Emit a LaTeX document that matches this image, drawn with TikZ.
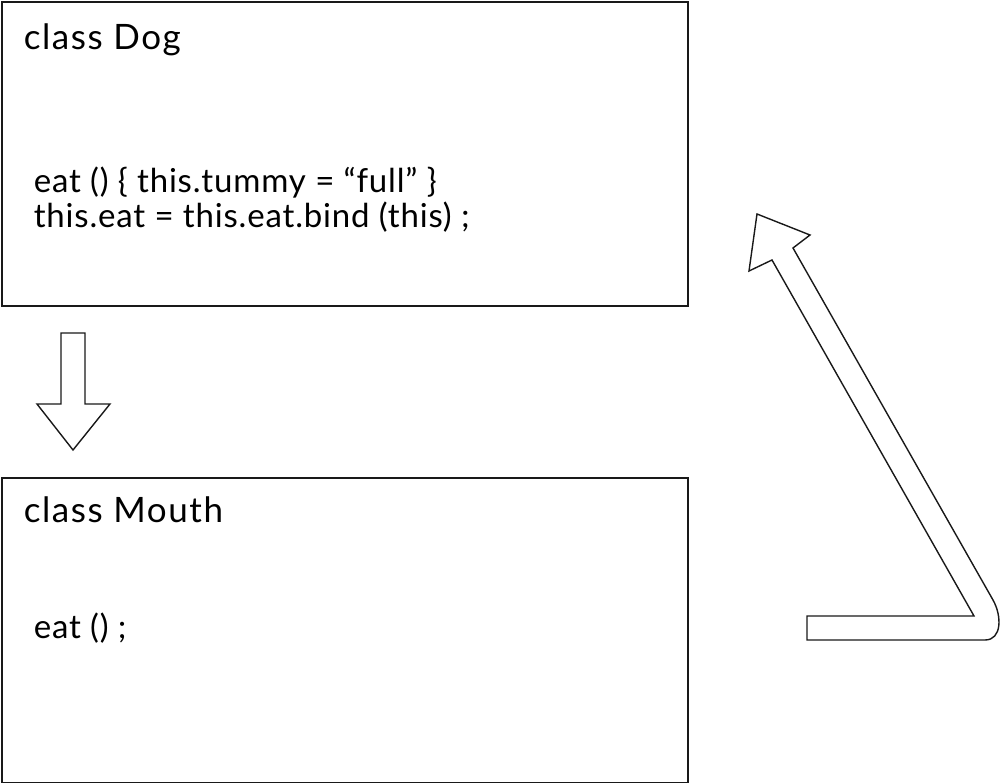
\documentclass[tikz,border=0pt]{standalone}
\usepackage{fontspec}
\setmainfont{Lato}
\newfontfamily\titlefont[LetterSpace=4.5]{Lato}
\newfontfamily\codefont[LetterSpace=2.5]{Lato}
\usetikzlibrary{positioning}

\begin{document}
\begin{tikzpicture}[x=1pt,y=-1pt,line width=1.6pt]
    \tikzstyle{classbox}=[rectangle,draw=black!90,inner sep=0pt,minimum width=686pt,minimum height=304pt,anchor=north west]
    \tikzstyle{title}=[inner sep=0pt,anchor=base west,font=\titlefont\fontsize{35}{35}\selectfont]
    \tikzstyle{code}=[inner sep=0pt,anchor=base west,font=\codefont\fontsize{33}{35}\selectfont]
    \tikzstyle{block arrow}=[draw=black!90,line width=1.4pt,line join=miter]

    \useasboundingbox (0,0) rectangle (1002,783);

    % Draw the two class boxes
    \node[classbox] (Dog) at (1,1) {};
    \node[classbox, minimum height=305pt] (Mouth) at (1,477) {};

    % Texts of class Dog
    \node[title] (Dog-name) at (23,50) {class Dog};
    \node[code] (Dog-eat) at (33,193) {eat () \{ this.tummy = “full” \}};
    \node[code] (Dog-bind) at (33,228) {this.eat = this.eat.bind (this) ;};

    % Texts of class Mouth
    \node[title] (Mouth-name) at (23,522) {class Mouth};
    \node[code] (Mouth-eat) at (33,638) {eat () ;};

    % Arrow down from Dog to Mouth
    \draw[block arrow] (61,333) -- (85,333) -- (85,404) -- (110,404) -- (73,450)
        -- (37,404) -- (61,404) -- cycle;

    % Arrow back up to Dog
    \draw[block arrow] (807,616) -- (974,616) -- (772,260) -- (749,271) -- (757,214)
        -- (810,235) -- (793,248) -- (993,600)
        .. controls (1002,616) and (1002,640) .. (985,640) -- (807,640) -- cycle;
\end{tikzpicture}
\end{document}
